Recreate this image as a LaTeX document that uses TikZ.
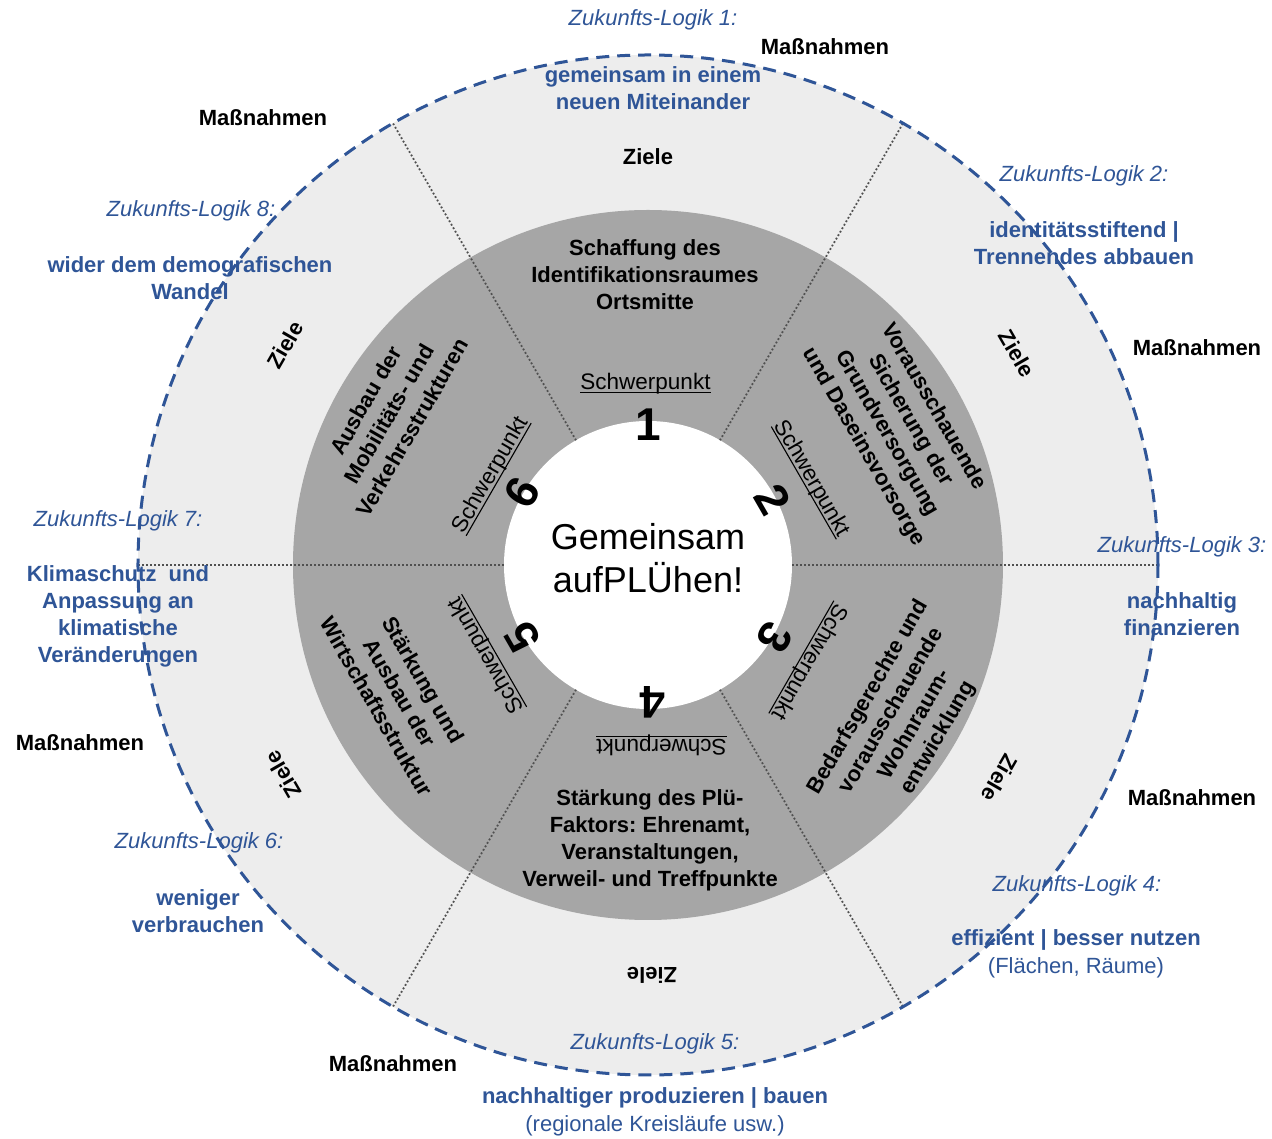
\documentclass[tikz,border=0pt]{standalone}
\usepackage{fontspec}
\setmainfont{Liberation Sans}
\frenchspacing
\definecolor{zblue}{HTML}{2F5597}
\definecolor{lgrey}{HTML}{EDEDED}
\definecolor{dgrey}{HTML}{A6A6A6}
\definecolor{dotc}{HTML}{505050}
\newcommand\spul[1]{\leavevmode\setbox0=\hbox{#1}\rlap{\rule[-3.6pt]{\wd0}{1.1pt}}\box0}
\begin{document}
\begin{tikzpicture}[x=1pt,y=1pt,
  lbl/.style={font=\fontsize{22}{27}\selectfont\bfseries, align=center, inner sep=0pt},
  zl/.style={font=\fontsize{22}{27}\selectfont\itshape, text=zblue, inner sep=0pt},
  zt/.style={font=\fontsize{22}{27}\selectfont\bfseries, text=zblue, align=center, inner sep=0pt},
  zn/.style={font=\fontsize{22}{27}\selectfont, text=zblue, inner sep=0pt},
  spk/.style={font=\fontsize{22.5}{27}\selectfont, inner sep=0pt},
  num/.style={font=\fontsize{46}{50}\selectfont\bfseries, inner sep=0pt},
  ctr/.style={font=\fontsize{36}{43}\selectfont, align=center, inner sep=0pt},
  divider/.style={draw=dotc, line width=1.8pt, dash pattern=on 1.8pt off 2.2pt},
  outer/.style={draw=zblue, line width=3pt, dash pattern=on 13pt off 8pt}]
\useasboundingbox (-648,-574) rectangle (624,565);
\fill[white] (-648,-574) rectangle (624,565);
% discs
\fill[lgrey] (0,0) circle (510pt);
\fill[dgrey] (0,0) circle (355pt);
\fill[white] (0,0) circle (144pt);
% sector dividers
\foreach \a in {0,60,120,180,240,300}
  \draw[divider] (\a:144pt) -- (\a:510pt);
\draw[outer] (0,0) circle (510pt);
% centre
\node[ctr] (centre) at (0,7) {Gemeinsam\\aufPLÜhen!};
% main texts of the Schwerpunkte
\node[lbl] (m1) at (-3,290) {Schaffung des\\Identifikationsraumes\\Ortsmitte};
\node[lbl, rotate=-60] (m2) at (250.5,138) {Vorausschauende\\Sicherung der\\Grundversorgung\\und Daseinsvorsorge};
\node[lbl, rotate=60] (m3) at (255.5,-152.75) {Bedarfsgerechte und\\vorausschauende\\Wohnraum-\\entwicklung};
\node[lbl] (m4) at (2,-275) {Stärkung des Plü-\\Faktors: Ehrenamt,\\Veranstaltungen,\\Verweil- und Treffpunkte};
\node[lbl, rotate=-60] (m5) at (-248,-128) {Stärkung und\\Ausbau der\\Wirtschaftsstruktur};
\node[lbl, rotate=60] (m6) at (-259,151) {Ausbau der\\Mobilitäts- und\\Verkehrsstrukturen};
% Schwerpunkt labels
\node[spk] (s1) at (-2.5,181) {\spul{Schwerpunkt}};
\node[spk, rotate=-60] (s2) at (163.5,86.5) {\spul{Schwerpunkt}};
\node[spk, rotate=-120] (s3) at (161,-96.5) {\spul{Schwerpunkt}};
\node[spk, rotate=180] (s4) at (13.5,-180) {\spul{Schwerpunkt}};
\node[spk, rotate=120] (s5) at (-161.5,-90) {\spul{Schwerpunkt}};
\node[spk, rotate=60] (s6) at (-157,90) {\spul{Schwerpunkt}};
% numbers
\node[num] (n1) at (0,140) {1};
\node[num, rotate=-60] (n2) at (125,65) {2};
\node[num, rotate=-120] (n3) at (127,-72) {3};
\node[num, rotate=180] (n4) at (5,-137) {4};
\node[num, rotate=120] (n5) at (-125,-72) {5};
\node[num, rotate=60] (n6) at (-126,72) {6};
% Ziele
\node[lbl] (z1) at (0,408) {Ziele};
\node[lbl, rotate=-60] (z2) at (369,211.5) {Ziele};
\node[lbl, rotate=-120] (z3) at (352,-213) {Ziele};
\node[lbl, rotate=180] (z4) at (4,-410) {Ziele};
\node[lbl, rotate=120] (z5) at (-365,-210) {Ziele};
\node[lbl, rotate=60] (z6) at (-363,220) {Ziele};
% Massnahmen
\node[lbl] (ma1) at (177,518) {Maßnahmen};
\node[lbl] (ma2) at (549,217) {Maßnahmen};
\node[lbl] (ma3) at (544,-233) {Maßnahmen};
\node[lbl] (ma4) at (-255,-499) {Maßnahmen};
\node[lbl] (ma5) at (-568,-178) {Maßnahmen};
\node[lbl] (ma6) at (-385,447) {Maßnahmen};
% Zukunfts-Logiken
\node[zl] (zl1) at (5,545) {Zukunfts-Logik 1:};
\node[zt] (zt1) at (5,477) {gemeinsam in einem\\neuen Miteinander};
\node[zl] (zl2) at (436,389) {Zukunfts-Logik 2:};
\node[zt] (zt2) at (436,322) {identitätsstiftend |\\Trennendes abbauen};
\node[zl] (zl3) at (534,18) {Zukunfts-Logik 3:};
\node[zt] (zt3) at (534,-49) {nachhaltig\\finanzieren};
\node[zl] (zl4) at (429,-321) {Zukunfts-Logik 4:};
\node[zt] (zt4) at (428,-375) {effizient | besser nutzen};
\node[zn] (zn4) at (428,-403) {(Flächen, Räume)};
\node[zl] (zl5) at (7,-479) {Zukunfts-Logik 5:};
\node[zt] (zt5) at (7,-533) {nachhaltiger produzieren | bauen};
\node[zn] (zn5) at (7,-561) {(regionale Kreisläufe usw.)};
\node[zl] (zl6) at (-449,-278) {Zukunfts-Logik 6:};
\node[zt] (zt6) at (-450,-346) {weniger\\verbrauchen};
\node[zl] (zl7) at (-530,44) {Zukunfts-Logik 7:};
\node[zt] (zt7) at (-530,-51) {Klimaschutz~ und\\Anpassung an\\klimatische\\Veränderungen};
\node[zl] (zl8) at (-457,354) {Zukunfts-Logik 8:};
\node[zt] (zt8) at (-458,287) {wider dem demografischen\\Wandel};
\end{tikzpicture}
\end{document}
